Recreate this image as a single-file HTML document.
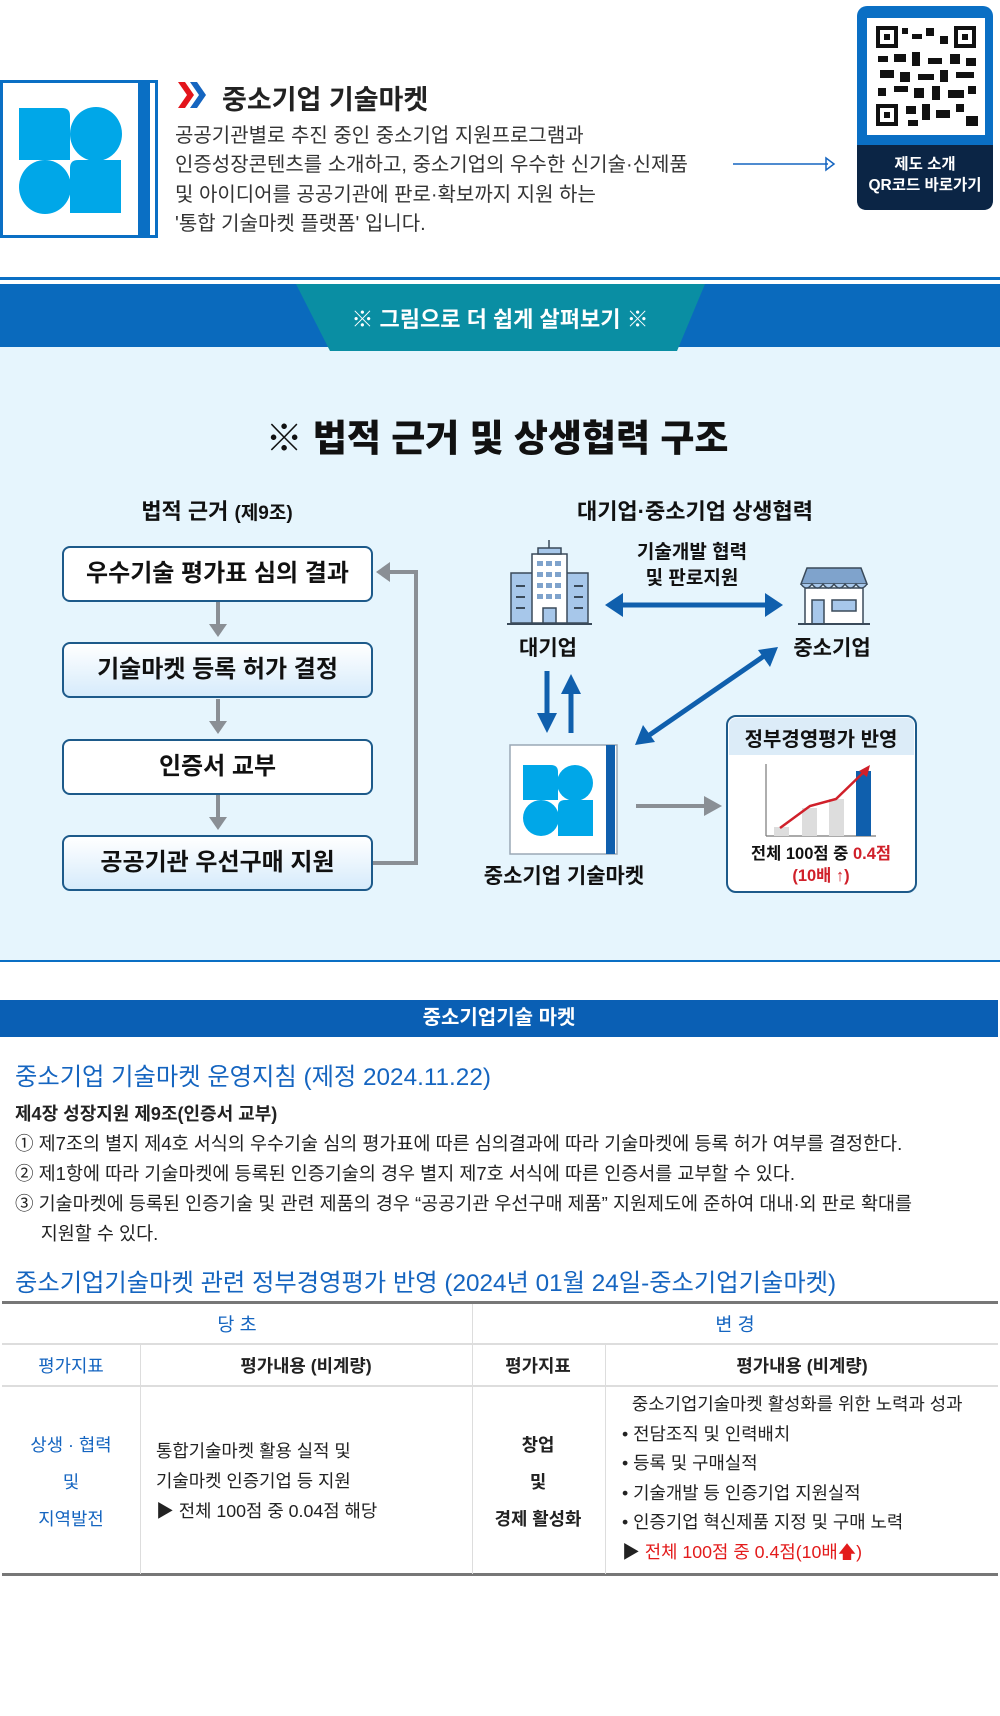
<!DOCTYPE html>
<html><head><meta charset="utf-8">
<style>
*{margin:0;padding:0;box-sizing:border-box}
body{width:1000px;height:1716px;background:#fff;position:relative;overflow:hidden;font-family:"Liberation Sans","Noto Sans CJK KR",sans-serif;color:#222}
.a{position:absolute;white-space:nowrap}
.c{transform:translateX(-50%)}
.box{position:absolute;left:62px;width:311px;height:56px;border:2.5px solid #1d5a8a;border-radius:8px;background:#fff;font-size:24px;font-weight:bold;text-align:center;line-height:51px;color:#111}
.box.f{background:linear-gradient(#fff,#d6ebfb)}
</style></head><body>
<!-- header -->
<div class="a" style="left:0;top:80px;width:158px;height:158px;border:3px solid #0a6fc4;background:#fff"></div>
<div class="a" style="left:138px;top:80px;width:12px;height:158px;background:#0a6fc4"></div>
<svg class="a" style="left:0;top:0" width="1000" height="360">
 <g fill="#00a7e8">
  <path d="M19 108 H62 Q70 108 70 116 V160 H19Z"/>
  <ellipse cx="96" cy="134" rx="26" ry="27"/>
  <ellipse cx="45" cy="187" rx="26" ry="27"/>
  <path d="M78 160 H121 V213 H70 V168 Q70 160 78 160Z"/>
 </g>
 <path d="M178 82 l9 13 -9 13 h7 l9 -13 -9 -13z" fill="#e3151c"/>
 <path d="M190 82 l9 13 -9 13 h7 l9 -13 -9 -13z" fill="#1565c0"/>
 <line x1="733" y1="164" x2="828" y2="164" stroke="#1565c0" stroke-width="1.5"/>
 <path d="M826 158 l8 6 -8 6z" fill="none" stroke="#1565c0" stroke-width="1.5"/>
 <rect x="857" y="6" width="136" height="204" rx="10" fill="#0a6fc4"/>
 <path d="M857 145 H993 V200 Q993 210 983 210 H867 Q857 210 857 200Z" fill="#0b2545"/>
 <rect x="867" y="18" width="118" height="117" fill="#fff"/>
 <g fill="#111">
  <rect x="876" y="26" width="22" height="22"/><rect x="954" y="26" width="22" height="22"/><rect x="876" y="104" width="22" height="22"/>
  <rect x="902" y="28" width="6" height="6"/><rect x="912" y="34" width="10" height="5"/><rect x="926" y="28" width="8" height="8"/><rect x="940" y="36" width="8" height="8"/>
  <rect x="878" y="56" width="10" height="6"/><rect x="894" y="54" width="12" height="8"/><rect x="912" y="52" width="8" height="14"/><rect x="928" y="58" width="14" height="6"/><rect x="950" y="54" width="10" height="10"/><rect x="966" y="58" width="10" height="8"/>
  <rect x="880" y="70" width="14" height="8"/><rect x="900" y="72" width="10" height="10"/><rect x="918" y="74" width="16" height="6"/><rect x="940" y="70" width="8" height="12"/><rect x="956" y="72" width="18" height="6"/>
  <rect x="878" y="88" width="8" height="8"/><rect x="894" y="86" width="14" height="6"/><rect x="914" y="88" width="10" height="10"/><rect x="932" y="86" width="8" height="14"/><rect x="948" y="90" width="16" height="8"/><rect x="968" y="86" width="8" height="8"/>
  <rect x="906" y="106" width="10" height="8"/><rect x="922" y="104" width="8" height="16"/><rect x="936" y="110" width="14" height="8"/><rect x="956" y="104" width="8" height="8"/><rect x="966" y="116" width="12" height="10"/><rect x="908" y="120" width="10" height="6"/>
 </g>
 <g fill="#fff"><rect x="880" y="30" width="14" height="14"/><rect x="958" y="30" width="14" height="14"/><rect x="880" y="108" width="14" height="14"/></g>
 <g fill="#111"><rect x="884" y="34" width="6" height="6"/><rect x="962" y="34" width="6" height="6"/><rect x="884" y="112" width="6" height="6"/></g>
</svg>
<div class="a" style="left:222px;top:78px;font-size:27px;font-weight:bold;color:#222">중소기업 기술마켓</div>
<div class="a" style="left:175px;top:122px;font-size:20px;line-height:29.3px;color:#333">공공기관별로 추진 중인 중소기업 지원프로그램과<br>인증성장콘텐츠를 소개하고, 중소기업의 우수한 신기술·신제품<br>및 아이디어를 공공기관에 판로·확보까지 지원 하는<br>'통합 기술마켓 플랫폼' 입니다.</div>
<div class="a c" style="left:925px;top:154px;font-size:15.5px;line-height:21px;color:#fff;font-weight:bold;text-align:center">제도 소개<br>QR코드 바로가기</div>

<!-- band -->
<div class="a" style="left:0;top:277px;width:1000px;height:3px;background:#0a6fc4"></div>
<div class="a" style="left:0;top:284px;width:1000px;height:64px;background:#0a6abd"></div>
<div class="a" style="left:0;top:347px;width:1000px;height:614px;background:#e6f5fd"></div>
<svg class="a" style="left:0;top:284px" width="1000" height="70"><path d="M296 0 H705 L677 67 H330Z" fill="#0a8ea3"/></svg>
<div class="a c" style="left:500px;top:302px;font-size:22px;font-weight:bold;color:#fff">※ 그림으로 더 쉽게 살펴보기 ※</div>
<div class="a" style="left:0;top:960px;width:1000px;height:2px;background:#0a6fc4"></div>

<!-- diagram -->
<div class="a c" style="left:497px;top:408px;font-size:37px;font-weight:900;color:#111">※ 법적 근거 및 상생협력 구조</div>
<div class="a c" style="left:217px;top:494px;font-size:22px;font-weight:bold;color:#111">법적 근거 <span style="font-size:19px">(제9조)</span></div>
<div class="a c" style="left:695px;top:494px;font-size:22px;font-weight:bold;color:#111">대기업·중소기업 상생협력</div>

<svg class="a" style="left:0;top:0" width="1000" height="960">
 <g stroke="#8a8f95" stroke-width="4" fill="#8a8f95">
  <line x1="218" y1="602" x2="218" y2="626"/><path d="M209 624 h18 l-9 13z" stroke="none"/>
  <line x1="218" y1="699" x2="218" y2="723"/><path d="M209 721 h18 l-9 13z" stroke="none"/>
  <line x1="218" y1="794" x2="218" y2="819"/><path d="M209 817 h18 l-9 13z" stroke="none"/>
  <polyline points="373,863 416,863 416,572 388,572" fill="none"/>
  <path d="M376 572 l14 -10 v20z" stroke="none"/>
  <line x1="636" y1="806" x2="708" y2="806"/><path d="M704 796 l18 10 -18 10z" stroke="none"/>
 </g>
 <g stroke="#3a4a5a" stroke-width="1.5">
  <rect x="511" y="573" width="22" height="50" fill="#a7c7ea"/>
  <rect x="566" y="573" width="22" height="50" fill="#a7c7ea"/>
  <rect x="532" y="554" width="35" height="69" fill="#fff"/>
  <rect x="538" y="548" width="23" height="6" fill="#a7c7ea"/>
  <line x1="549" y1="540" x2="549" y2="548"/>
  <line x1="507" y1="624" x2="592" y2="624" stroke-width="2"/>
  <rect x="543" y="608" width="13" height="15" fill="#a7c7ea"/>
 </g>
 <g fill="#7fa3cc"><rect x="537" y="561" width="6" height="5"/><rect x="546" y="561" width="6" height="5"/><rect x="555" y="561" width="6" height="5"/>
 <rect x="537" y="572" width="6" height="5"/><rect x="546" y="572" width="6" height="5"/><rect x="555" y="572" width="6" height="5"/>
 <rect x="537" y="583" width="6" height="5"/><rect x="546" y="583" width="6" height="5"/><rect x="555" y="583" width="6" height="5"/>
 <rect x="537" y="594" width="6" height="5"/><rect x="546" y="594" width="6" height="5"/><rect x="555" y="594" width="6" height="5"/></g>
 <g fill="#3a4a5a"><rect x="516" y="585" width="9" height="2"/><rect x="516" y="596" width="9" height="2"/><rect x="516" y="607" width="9" height="2"/><rect x="574" y="585" width="9" height="2"/><rect x="574" y="596" width="9" height="2"/><rect x="574" y="607" width="9" height="2"/></g>
 <g stroke="#3a4a5a" stroke-width="1.5">
  <rect x="805" y="588" width="58" height="36" fill="#fff"/>
  <path d="M807 568 H861 L867 584 H801Z" fill="#7fa3cc"/>
  <path d="M801 584 q5.5 8 11 0 q5.5 8 11 0 q5.5 8 11 0 q5.5 8 11 0 q5.5 8 11 0 q5.5 8 11 0" fill="#a7c7ea"/>
  <rect x="812" y="600" width="12" height="24" fill="#a7c7ea"/>
  <rect x="832" y="600" width="24" height="11" fill="#a7c7ea"/>
  <line x1="798" y1="624" x2="870" y2="624" stroke-width="2"/>
 </g>
 <g stroke="#0f5fad" stroke-width="5" fill="#0f5fad">
  <line x1="620" y1="605" x2="768" y2="605"/>
  <path d="M605 605 l18 -12 v24z" stroke="none"/><path d="M783 605 l-18 -12 v24z" stroke="none"/>
  <line x1="547" y1="671" x2="547" y2="715"/><path d="M537 713 h20 l-10 20z" stroke="none"/>
  <line x1="571" y1="733" x2="571" y2="692"/><path d="M561 694 h20 l-10 -20z" stroke="none"/>
  <line x1="648" y1="736" x2="764" y2="656"/>
  <path d="M635 745 l8 -20 12 17z" stroke="none"/><path d="M778 647 l-20 3 12 17z" stroke="none"/>
 </g>
 <rect x="510" y="745" width="107" height="109" fill="#fff" stroke="#9aa8b5" stroke-width="1.5"/>
 <rect x="606" y="745" width="9" height="109" fill="#0f5fad"/>
 <g fill="#00a7e8">
  <path d="M523 765 H551 Q558 765 558 772 V800 H523Z"/>
  <circle cx="575" cy="783" r="18"/>
  <circle cx="541" cy="818" r="18"/>
  <path d="M565 800 H593 V836 H558 V807 Q558 800 565 800Z"/>
 </g>
 <rect x="727" y="716" width="189" height="176" rx="9" fill="#fff" stroke="#1d5a8a" stroke-width="2"/>
 <path d="M729 755 H914 V726 Q914 718 906 718 H737 Q729 718 729 726Z" fill="#dcecf8"/>
 <line x1="766" y1="764" x2="766" y2="836" stroke="#777" stroke-width="1.2"/>
 <line x1="766" y1="836" x2="876" y2="836" stroke="#777" stroke-width="1.2"/>
 <rect x="774" y="827" width="15" height="9" fill="#ddd"/>
 <rect x="802" y="808" width="15" height="28" fill="#ddd"/>
 <rect x="829" y="799" width="15" height="37" fill="#ddd"/>
 <rect x="856" y="771" width="15" height="65" fill="#0f5fad"/>
 <polyline points="780,828 810,806 836,799 866,770" fill="none" stroke="#d0202a" stroke-width="2.5"/>
 <path d="M870 765 l-3 12 -8 -6z" fill="#d0202a"/>
</svg>
<div class="box" style="top:546px">우수기술 평가표 심의 결과</div>
<div class="box f" style="top:642px">기술마켓 등록 허가 결정</div>
<div class="box" style="top:739px">인증서 교부</div>
<div class="box f" style="top:835px">공공기관 우선구매 지원</div>
<div class="a c" style="left:692px;top:540px;font-size:19px;font-weight:bold;line-height:26px;text-align:center;color:#111">기술개발 협력<br>및 판로지원</div>
<div class="a c" style="left:548px;top:632px;font-size:21px;font-weight:bold;color:#111">대기업</div>
<div class="a c" style="left:832px;top:632px;font-size:21px;font-weight:bold;color:#111">중소기업</div>
<div class="a c" style="left:564px;top:860px;font-size:21px;font-weight:bold;color:#111">중소기업 기술마켓</div>
<div class="a c" style="left:821px;top:723px;font-size:20px;font-weight:bold;color:#111">정부경영평가 반영</div>
<div class="a c" style="left:821px;top:843px;font-size:16.5px;font-weight:bold;line-height:22px;text-align:center;color:#111">전체 100점 중 <span style="color:#d0202a">0.4점</span><br><span style="color:#d0202a">(10배 ↑)</span></div>

<!-- bottom -->
<div class="a" style="left:0;top:1000px;width:998px;height:37px;background:#0a5fb4;color:#fff;font-size:20px;font-weight:bold;text-align:center;line-height:37px">중소기업기술 마켓</div>
<div class="a" style="left:15px;top:1057px;font-size:24.3px;color:#1565c0">중소기업 기술마켓 운영지침 (제정 2024.11.22)</div>
<div class="a" style="left:15px;top:1100px;font-size:18px;font-weight:bold;color:#222">제4장 성장지원 제9조(인증서 교부)</div>
<div class="a" style="left:15px;top:1129px;font-size:18.5px;line-height:30px;color:#222">① 제7조의 별지 제4호 서식의 우수기술 심의 평가표에 따른 심의결과에 따라 기술마켓에 등록 허가 여부를 결정한다.<br>② 제1항에 따라 기술마켓에 등록된 인증기술의 경우 별지 제7호 서식에 따른 인증서를 교부할 수 있다.<br>③ 기술마켓에 등록된 인증기술 및 관련 제품의 경우 “공공기관 우선구매 제품” 지원제도에 준하여 대내·외 판로 확대를<br>&nbsp;&nbsp;&nbsp;&nbsp;&nbsp;지원할 수 있다.</div>
<div class="a" style="left:15px;top:1263px;font-size:24.3px;color:#1565c0">중소기업기술마켓 관련 정부경영평가 반영 (2024년 01월 24일-중소기업기술마켓)</div>

<div class="a" style="left:2px;top:1301px;width:996px;height:3px;background:#777"></div>
<div class="a" style="left:2px;top:1343px;width:996px;height:1.5px;background:#ddd"></div>
<div class="a" style="left:2px;top:1385px;width:996px;height:1.5px;background:#ddd"></div>
<div class="a" style="left:2px;top:1573px;width:996px;height:3px;background:#777"></div>
<div class="a" style="left:472px;top:1304px;width:1px;height:270px;background:#ddd"></div>
<div class="a" style="left:140px;top:1344px;width:1px;height:230px;background:#ddd"></div>
<div class="a" style="left:605px;top:1344px;width:1px;height:230px;background:#ddd"></div>
<div class="a c" style="left:237px;top:1311px;font-size:18.5px;color:#1565c0">당 초</div>
<div class="a c" style="left:735px;top:1311px;font-size:18.5px;color:#1565c0">변 경</div>
<div class="a c" style="left:71px;top:1352px;font-size:17.8px;color:#1565c0">평가지표</div>
<div class="a c" style="left:306px;top:1352px;font-size:17.8px;font-weight:bold;color:#222">평가내용 (비계량)</div>
<div class="a c" style="left:538px;top:1352px;font-size:17.8px;font-weight:bold;color:#222">평가지표</div>
<div class="a c" style="left:802px;top:1352px;font-size:17.8px;font-weight:bold;color:#222">평가내용 (비계량)</div>
<div class="a c" style="left:71px;top:1427px;font-size:17.8px;line-height:37px;color:#1565c0;text-align:center">상생 · 협력<br>및<br>지역발전</div>
<div class="a" style="left:156px;top:1436px;font-size:17.8px;line-height:30px;color:#222">통합기술마켓 활용 실적 및<br>기술마켓 인증기업 등 지원<br>▶ 전체 100점 중 0.04점 해당</div>
<div class="a c" style="left:538px;top:1427px;font-size:17.8px;line-height:37px;font-weight:bold;color:#222;text-align:center">창업<br>및<br>경제 활성화</div>
<div class="a" style="left:622px;top:1390px;font-size:17.8px;line-height:29.6px;color:#222">&nbsp;&nbsp;중소기업기술마켓 활성화를 위한 노력과 성과<br>• 전담조직 및 인력배치<br>• 등록 및 구매실적<br>• 기술개발 등 인증기업 지원실적<br>• 인증기업 혁신제품 지정 및 구매 노력<br>▶ <span style="color:#e31b1b">전체 100점 중 0.4점(10배🡅)</span></div>
</body></html>
